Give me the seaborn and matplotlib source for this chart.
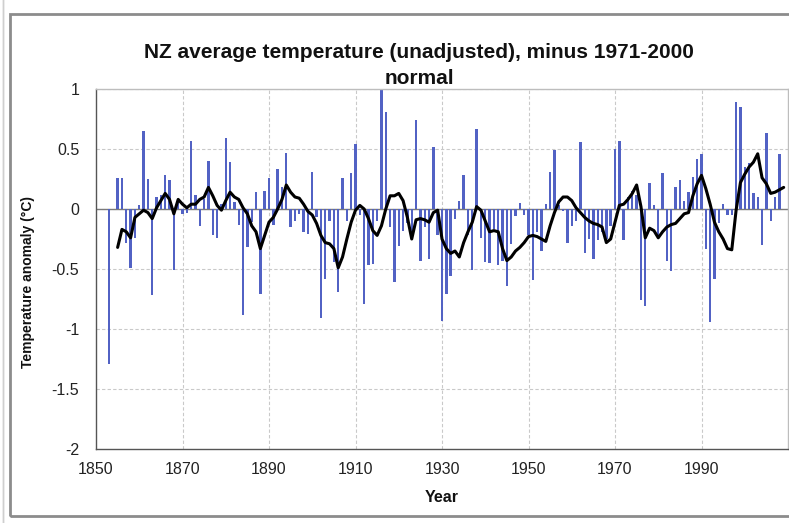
import numpy as np
import pandas as pd
import matplotlib
matplotlib.use("Agg")
import matplotlib.pyplot as plt
from matplotlib.patches import Rectangle
from matplotlib.ticker import FuncFormatter
import seaborn as sns

# annual anomaly (bars); 1854 has no bar
years = list(range(1853, 2009))
anomaly = [
    -1.29, np.nan, 0.26, 0.26, -0.28, -0.49, -0.24, 0.03, 0.65, 0.25,   # 1853-1862
    -0.72, 0.10, 0.12, 0.28, 0.24, -0.51, 0.06, -0.04, -0.03, 0.57,     # 1863-1872
    0.12, -0.14, 0.08, 0.40, -0.22, -0.24, 0.04, 0.59, 0.39, 0.06,      # 1873-1882
    -0.13, -0.88, -0.32, -0.11, 0.14, -0.71, 0.15, 0.26, -0.13, 0.33,   # 1883-1892
    0.18, 0.47, -0.15, -0.10, -0.04, -0.19, -0.21, 0.31, -0.07, -0.91,  # 1893-1902
    -0.58, -0.10, -0.44, -0.69, 0.26, -0.10, 0.30, 0.54, -0.05, -0.79,  # 1903-1912
    -0.47, -0.46, -0.10, 1.00, 0.81, -0.15, -0.61, -0.31, -0.18, -0.12, # 1913-1922
    -0.26, 0.74, -0.43, -0.15, -0.42, 0.52, -0.22, -0.93, -0.71, -0.56, # 1923-1932
    -0.08, 0.07, 0.28, -0.22, -0.51, 0.67, -0.24, -0.44, -0.45, -0.17,  # 1933-1942
    -0.47, -0.43, -0.64, -0.29, -0.06, 0.05, -0.05, -0.22, -0.59, -0.19, # 1943-1952
    -0.35, 0.04, 0.31, 0.49, 0.03, -0.02, -0.28, -0.14, -0.10, 0.56,    # 1953-1962
    -0.37, -0.25, -0.42, -0.26, -0.19, -0.25, -0.14, 0.50, 0.57, -0.26, # 1963-1972
    0.10, 0.15, 0.12, -0.76, -0.81, 0.22, 0.03, -0.22, 0.30, -0.43,     # 1973-1982
    -0.52, 0.18, 0.24, 0.07, 0.14, 0.27, 0.42, 0.46, -0.33, -0.94,      # 1983-1992
    -0.58, -0.12, 0.04, -0.05, -0.05, 0.89, 0.85, 0.35, 0.38, 0.13,     # 1993-2002
    0.10, -0.30, 0.63, -0.10, 0.10, 0.46,                                # 2003-2008
]

# smoothed curve (black line)
smooth_years = list(range(1855, 2010))
smooth = [
    -0.32, -0.17, -0.19, -0.24, -0.07, -0.04, -0.01, -0.03, -0.08, 0.01,  # 1855-1864
    0.07, 0.13, 0.08, -0.04, 0.08, 0.04, 0.01, 0.04, 0.04, 0.08,          # 1865-1874
    0.10, 0.18, 0.11, 0.03, -0.01, 0.07, 0.14, 0.10, 0.08, 0.01,          # 1875-1884
    -0.04, -0.14, -0.19, -0.33, -0.22, -0.11, -0.07, 0.00, 0.08, 0.20,    # 1885-1894
    0.14, 0.10, 0.09, 0.04, -0.02, -0.05, -0.12, -0.22, -0.28, -0.29,     # 1895-1904
    -0.33, -0.49, -0.40, -0.25, -0.11, -0.01, 0.03, 0.00, -0.08, -0.18,   # 1905-1914
    -0.22, -0.14, 0.00, 0.11, 0.11, 0.13, 0.07, -0.07, -0.25, -0.09,      # 1915-1924
    -0.08, -0.09, -0.11, -0.03, -0.01, -0.25, -0.33, -0.37, -0.35, -0.40, # 1925-1934
    -0.28, -0.19, -0.11, 0.02, -0.01, -0.10, -0.19, -0.18, -0.19, -0.33,  # 1935-1944
    -0.43, -0.40, -0.35, -0.32, -0.28, -0.23, -0.22, -0.23, -0.25, -0.27, # 1945-1954
    -0.14, -0.03, 0.06, 0.10, 0.10, 0.07, 0.01, -0.03, -0.07, -0.10,      # 1955-1964
    -0.12, -0.13, -0.15, -0.28, -0.25, -0.11, 0.03, 0.04, 0.08, 0.13,     # 1965-1974
    0.20, 0.02, -0.24, -0.16, -0.18, -0.24, -0.19, -0.15, -0.13, -0.12,   # 1975-1984
    -0.08, -0.04, -0.03, 0.11, 0.21, 0.28, 0.17, 0.04, -0.11, -0.19,      # 1985-1994
    -0.25, -0.33, -0.34, -0.01, 0.22, 0.29, 0.35, 0.39, 0.46, 0.26,       # 1995-2004
    0.21, 0.13, 0.14, 0.16, 0.18,                                          # 2005-2009
]

x_ticks = [1850, 1870, 1890, 1910, 1930, 1950, 1970, 1990]
y_ticks = [-2, -1.5, -1, -0.5, 0, 0.5, 1]

bars = pd.DataFrame({'Year': years, 'Anomaly': anomaly}).dropna()
line = pd.DataFrame({'Year': smooth_years, 'Smooth': smooth})

sns.set_style("white")
plt.rcParams['font.family'] = ['Liberation Sans', 'DejaVu Sans']

W, H = 789, 523
fig = plt.figure(figsize=(W / 100, H / 100), dpi=100)
ax = fig.add_axes([96 / W, (H - 449) / H, 692 / W, 360 / H])

# grid first so the bars sit on top
for gx in range(1870, 2010, 20):
    ax.axvline(gx, color='#c9c9c9', lw=0.8, ls=(0, (3, 2)), zorder=0)
for gy in y_ticks[1:]:
    ax.axhline(gy, color='#c9c9c9', lw=0.8, ls=(0, (3, 2)), zorder=0)
ax.axhline(0, color='#7a7a7a', lw=1.0, zorder=1)

sns.barplot(data=bars, x='Year', y='Anomaly', native_scale=True, width=0.55,
            color='#5262c4', saturation=1, errorbar=None, linewidth=0, ax=ax, zorder=2)
sns.lineplot(data=line, x='Year', y='Smooth', color='black', lw=2.2, ax=ax, zorder=3)

ax.set_xlim(1850, 2010)
ax.set_ylim(-2, 1)
ax.set_xticks(x_ticks)
ax.set_yticks(y_ticks)
ax.yaxis.set_major_formatter(FuncFormatter(lambda v, p: f'{v:g}'))
ax.tick_params(axis='x', length=0, pad=9, labelsize=11.5, colors='#222222')
ax.tick_params(axis='y', length=4, width=0.8, color='#555555', pad=8,
               labelsize=11.5, labelcolor='#222222')

for side in ['left', 'bottom']:
    ax.spines[side].set_color('#555555')
    ax.spines[side].set_linewidth(1.0)
for side in ['top', 'right']:
    ax.spines[side].set_color('#bdbdbd')
    ax.spines[side].set_linewidth(1.0)

ax.set_xlabel('Year', fontsize=11.5, fontweight='bold', color='#111111')
ax.set_ylabel('Temperature anomaly (°C)', fontsize=10, fontweight='bold', color='#111111')
ax.xaxis.set_label_coords(0.5, -(497 - 449) / 360)
ax.xaxis.label.set_va('center')
ax.yaxis.set_label_coords(-(96 - 35) / 692, (449 - 282) / 360)

fig.text(419 / W, 1 - 52 / H, 'NZ average temperature (unadjusted), minus 1971-2000',
         ha='center', va='center', fontsize=15, fontweight='bold', color='#111111')
fig.text(419 / W, 1 - 79 / H, 'normal',
         ha='center', va='center', fontsize=15, fontweight='bold', color='#111111')

# outer chart-area frame
fig.patches.append(Rectangle((10 / W, (H - 516) / H), 1.0, 502 / H, transform=fig.transFigure,
                             fill=False, edgecolor='#8c8c8c', lw=2.0, clip_on=False))
fig.patches.append(Rectangle((3 / W, -0.1), 0.0, 1.2, transform=fig.transFigure,
                             fill=False, edgecolor='#cfcfcf', lw=1.0, clip_on=False))

fig.savefig('out.png', dpi=100)
